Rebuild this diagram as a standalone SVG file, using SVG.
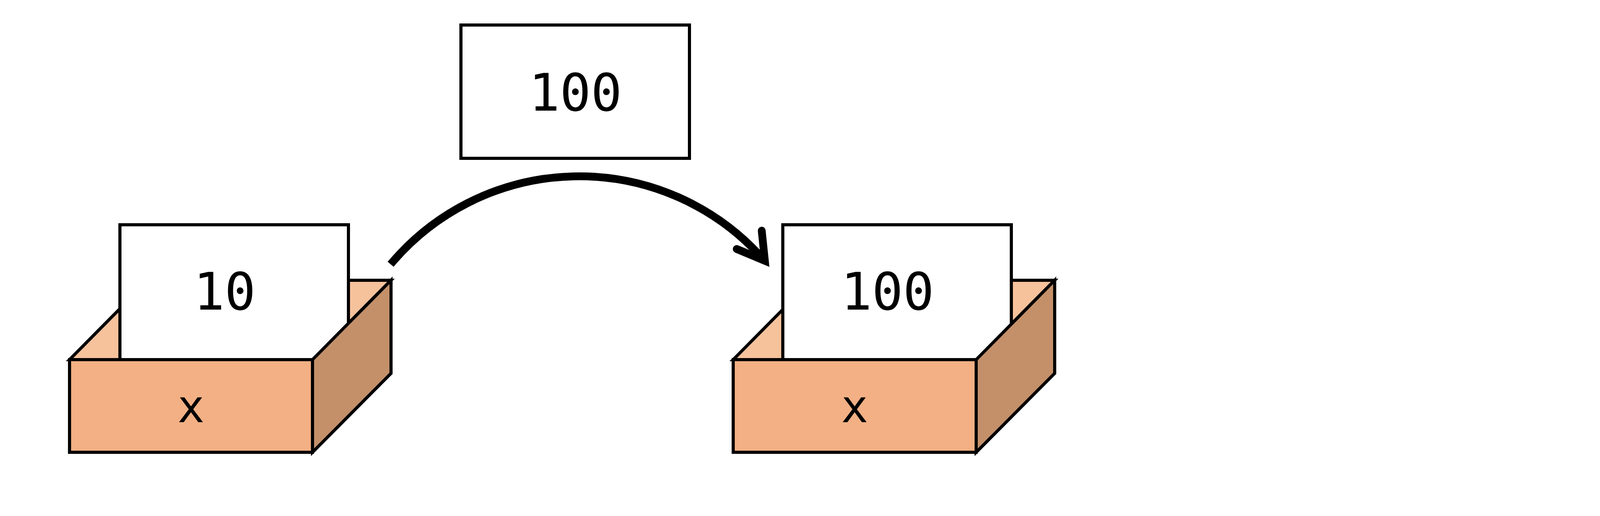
<svg xmlns="http://www.w3.org/2000/svg" width="4400" height="1320" viewBox="0 0 4400 1320">
  <style>
    .edge { stroke: #000; stroke-width: 8; stroke-linejoin: miter; }
    .top { fill: #f6c29c; }
    .front { fill: #f2b084; }
    .side { fill: #c4906a; }
    .card { fill: #ffffff; stroke: #000; stroke-width: 8; }
    .val { font-family: "DejaVu Sans Mono", "Liberation Mono", monospace; font-size: 132px; fill: #000; text-anchor: middle; }
    .name { font-family: "DejaVu Sans Mono", "Liberation Mono", monospace; font-size: 116px; fill: #000; text-anchor: middle; }
    .conn { fill: none; stroke: #000; stroke-width: 20; }
  </style>
  <rect width="4400" height="1320" fill="#ffffff"/>

  <g id="value-100">
    <rect class="card" x="1180" y="64" width="585" height="341"/>
    <text class="val" x="1473" y="283">100</text>
  </g>

  <g id="box-before">
    <polygon class="top edge" points="178,920 379,717 1001,717 800,920"/>
    <rect class="card" x="307" y="575" width="585" height="345"/>
    <text class="val" x="575" y="792">10</text>
    <rect class="front edge" x="178" y="920" width="622" height="237"/>
    <polygon class="side edge" points="800,920 1001,717 1001,955 800,1157"/>
    <text class="name" x="489" y="1080">x</text>
  </g>

  <g id="box-after">
    <polygon class="top edge" points="1877,920 2078,717 2700,717 2499,920"/>
    <rect class="card" x="2004" y="575" width="585" height="345"/>
    <text class="val" x="2272" y="792">100</text>
    <rect class="front edge" x="1877" y="920" width="622" height="237"/>
    <polygon class="side edge" points="2499,920 2700,717 2700,955 2499,1157"/>
    <text class="name" x="2188" y="1080">x</text>
  </g>

  <g id="connectors">
    <path class="conn" d="M 1000 676 A 630 630 0 0 1 1944 652"/>
    <polyline class="conn" points="1950,590 1958,667 1886,637" stroke-linecap="round" stroke-linejoin="miter" stroke-miterlimit="10"/>
  </g>
</svg>
